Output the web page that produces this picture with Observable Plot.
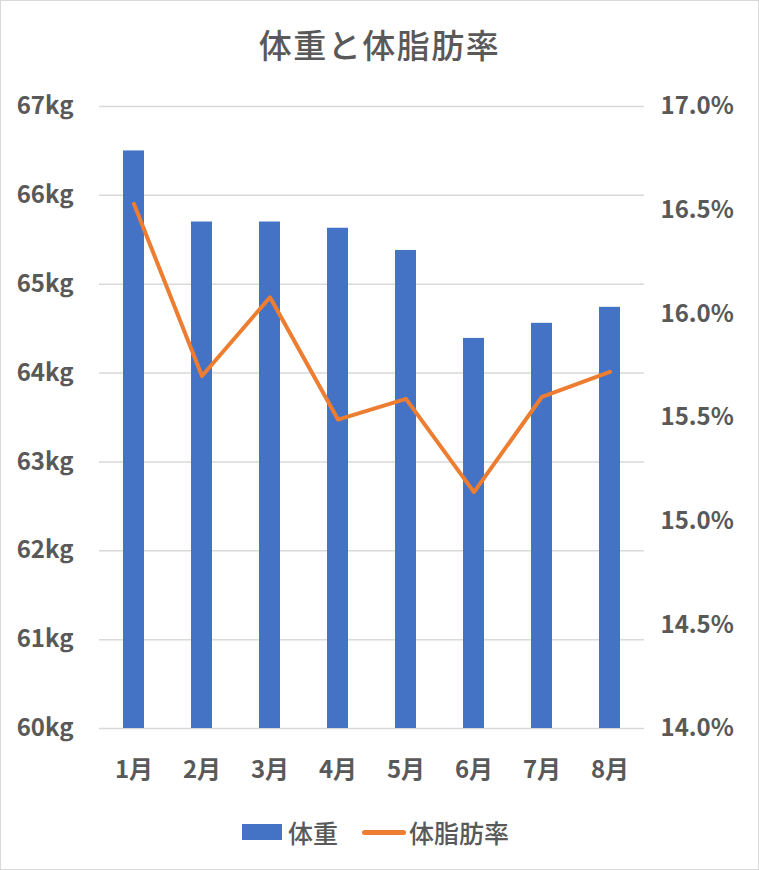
<!DOCTYPE html>
<html>
<head>
<meta charset="utf-8">
<script src="https://cdn.jsdelivr.net/npm/d3@7"></script>
<script src="https://cdn.jsdelivr.net/npm/@observablehq/plot@0.6"></script>
<style>
  html, body { margin: 0; padding: 0; background: #fff; }
  #wrap { position: relative; width: 759px; height: 870px; overflow: hidden; font-family: "Noto Sans CJK JP", "Noto Sans", sans-serif; color: #595959; }
  #border { position: absolute; inset: 0; border: 1px solid #d9d9d9; box-sizing: border-box; pointer-events: none; }
  #title { height: 86px; line-height: 88px; text-align: center; font-size: 33px; font-weight: 500; letter-spacing: 1.5px; }
  #chart svg { display: block; }
  #legend { height: 74px; display: flex; justify-content: center; align-items: center; font-size: 25px; font-weight: 500; box-sizing: border-box; padding-bottom: 2px; padding-right: 8px; }
  .sw-bar { width: 40px; height: 16px; background: #4472C4; margin-right: 6px; }
  .sw-line { width: 44px; height: 5px; border-radius: 3px; background: #ED7D31; margin-left: 24px; margin-right: 3px; }
</style>
</head>
<body>
<div id="wrap">
  <div id="title">体重と体脂肪率</div>
  <div id="chart"></div>
  <div id="legend"></div>
  <div id="border"></div>
</div>
<script>
const months = ["1月", "2月", "3月", "4月", "5月", "6月", "7月", "8月"];
const weight = [66.5, 65.7, 65.7, 65.63, 65.38, 64.39, 64.56, 64.74];
const bodyFat = [16.53, 15.7, 16.08, 15.49, 15.59, 15.14, 15.6, 15.72];
const kgTicks = [60, 61, 62, 63, 64, 65, 66, 67];
const pctTicks = [14.0, 14.5, 15.0, 15.5, 16.0, 16.5, 17.0];
const seriesNames = ["体重", "体脂肪率"];

const kgDomain = [60, 67];
const pctDomain = [14, 17];
const pctToKg = p => kgDomain[0] + (p - pctDomain[0]) * (kgDomain[1] - kgDomain[0]) / (pctDomain[1] - pctDomain[0]);
const kgToPct = k => pctDomain[0] + (k - kgDomain[0]) * (pctDomain[1] - pctDomain[0]) / (kgDomain[1] - kgDomain[0]);

const data = months.map((m, i) => ({month: m, weight: weight[i], fat: bodyFat[i], fatKg: pctToKg(bodyFat[i])}));

const textColor = "#595959";
const font = "'Noto Sans CJK JP', 'Noto Sans', sans-serif";

const chart = Plot.plot({
  width: 759,
  height: 710,
  marginTop: 20,
  marginBottom: 68,
  marginLeft: 99,
  marginRight: 115,
  style: {fontFamily: font, color: textColor, background: "transparent"},
  x: {type: "band", domain: months, paddingInner: 0.69, paddingOuter: 0.345, label: null},
  y: {domain: kgDomain, label: null},
  marks: [
    Plot.gridY(kgTicks, {stroke: "#d9d9d9", strokeOpacity: 1, strokeWidth: 1.5}),
    Plot.barY(data, {x: "month", y1: () => kgDomain[0], y2: "weight", fill: "#4472C4"}),
    Plot.line(data, {x: "month", y: "fatKg", stroke: "#ED7D31", strokeWidth: 4, strokeLinejoin: "round", strokeLinecap: "round"}),
    Plot.axisY(kgTicks, {anchor: "left", tickSize: 0, tickPadding: 26, tickFormat: d => d + "kg", fontSize: 24, fontWeight: "bold", fill: textColor, label: null}),
    Plot.axisY(pctTicks.map(pctToKg), {anchor: "right", tickSize: 0, tickPadding: 16, tickFormat: d => kgToPct(d).toFixed(1) + "%", fontSize: 24, fontWeight: "bold", fill: textColor, label: null}),
    Plot.axisX(months, {tickSize: 0, tickPadding: 32, fontSize: 24, fontWeight: "bold", fill: textColor, label: null})
  ]
});
document.getElementById("chart").appendChild(chart);

const legend = document.getElementById("legend");
legend.innerHTML = `<div class="sw-bar"></div><span>${seriesNames[0]}</span><div class="sw-line"></div><span>${seriesNames[1]}</span>`;
</script>
</body>
</html>
